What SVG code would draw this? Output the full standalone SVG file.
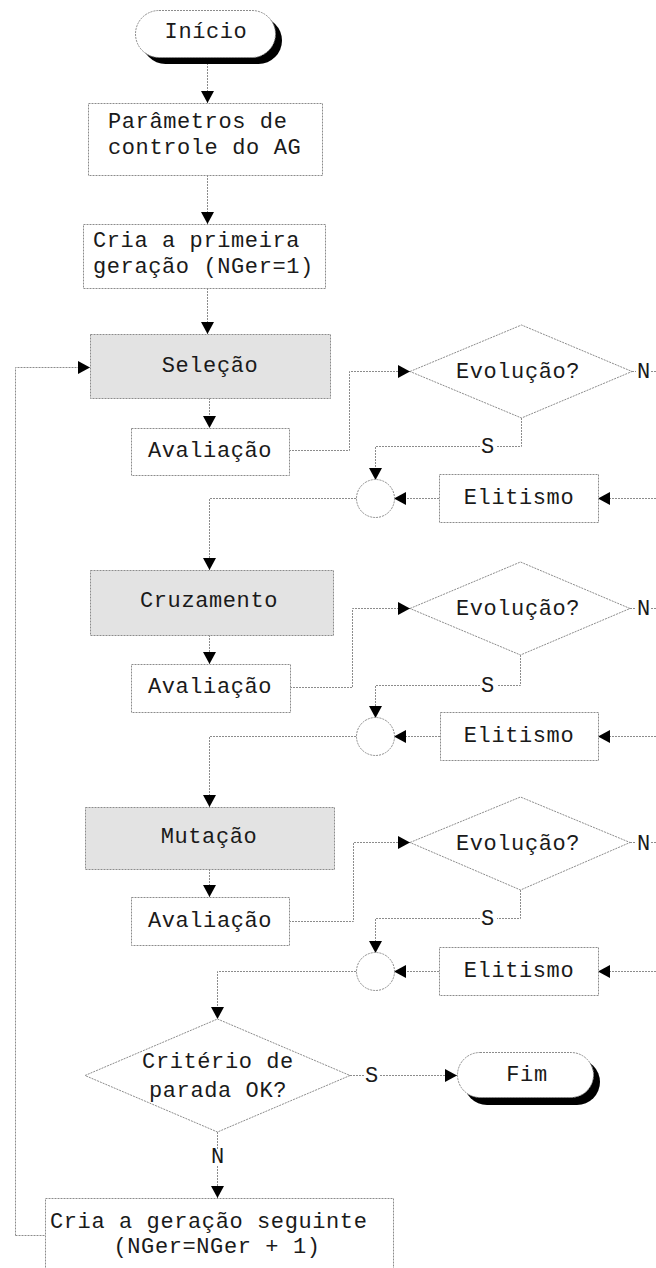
<svg xmlns="http://www.w3.org/2000/svg" width="656" height="1268" viewBox="0 0 656 1268">
<style>
.box{fill:#ffffff;stroke:#8c8c8c;stroke-width:1;stroke-dasharray:2 1}
.gray{fill:#e3e3e3;stroke:#8c8c8c;stroke-width:1;stroke-dasharray:2 1}
.shadow{fill:#000000}
.ln{fill:none;stroke:#8c8c8c;stroke-width:1;stroke-dasharray:2 1}
.arr{marker-end:url(#ah)}
text{font-family:"Liberation Mono","Courier New",monospace;font-size:22px;letter-spacing:0.6px;fill:#1a1a1a}
.c{text-anchor:middle}
</style>
<defs>
<marker id="ah" viewBox="0 0 12 13" refX="12" refY="6.5" markerWidth="12" markerHeight="13" markerUnits="userSpaceOnUse" orient="auto">
<path d="M0,0 L12,6.5 L0,13 z" fill="#000000" stroke="none"/>
</marker>
</defs>

<g id="connectors">
<path class="ln arr" d="M207.5,57 V103"/>
<path class="ln arr" d="M207.5,175 V224"/>
<path class="ln arr" d="M207.5,288 V334"/>
<path class="ln arr" d="M209.5,398 V428"/>
<path class="ln arr" d="M15.5,1235.5 V367.5 H90"/>
<path class="ln arr" d="M289,450.5 H349.5 V371.5 H410"/>
<path class="ln" d="M632,371.5 H636"/>
<path class="ln" d="M651,371.5 H656"/>
<path class="ln" d="M521.5,418 V446.5 H497"/>
<path class="ln arr" d="M480,446.5 H375.5 V480"/>
<path class="ln arr" d="M439,498.5 H394"/>
<path class="ln arr" d="M656,498.5 H598"/>
<path class="ln arr" d="M356,498.5 H209.5 V570"/>
<path class="ln arr" d="M209.5,635 V664"/>
<path class="ln arr" d="M290,687.5 H352.5 V608.5 H410"/>
<path class="ln" d="M630,608.5 H636"/>
<path class="ln" d="M651,608.5 H656"/>
<path class="ln" d="M520.5,655 V685.5 H497"/>
<path class="ln arr" d="M480,685.5 H375.5 V718"/>
<path class="ln arr" d="M440,736.5 H394"/>
<path class="ln arr" d="M656,736.5 H598"/>
<path class="ln arr" d="M356,736.5 H209.5 V807"/>
<path class="ln arr" d="M209.5,869 V897"/>
<path class="ln arr" d="M289,921.5 H353.5 V842.5 H410"/>
<path class="ln" d="M630,842.5 H636"/>
<path class="ln" d="M651,842.5 H656"/>
<path class="ln" d="M520.5,890 V918.5 H497"/>
<path class="ln arr" d="M480,918.5 H375.5 V953"/>
<path class="ln arr" d="M439,971.5 H394"/>
<path class="ln arr" d="M656,971.5 H598"/>
<path class="ln arr" d="M356,971.5 H217.5 V1019"/>
<path class="ln" d="M350,1075.5 H364"/>
<path class="ln arr" d="M380,1075.5 H457"/>
<path class="ln" d="M217.5,1132 V1149"/>
<path class="ln arr" d="M217.5,1166 V1198"/>
<path class="ln" d="M15.5,1235.5 H45"/>
<text x="644" y="378" class="c">N</text>
<text x="488" y="453" class="c">S</text>
<text x="644" y="615" class="c">N</text>
<text x="488" y="692" class="c">S</text>
<text x="644" y="850" class="c">N</text>
<text x="488" y="925" class="c">S</text>
<text x="372" y="1082" class="c">S</text>
<text x="218" y="1163" class="c">N</text>
</g>

<g id="inicio">
<rect class="shadow" x="142" y="17" width="140" height="47" rx="23.5"/>
<rect class="box" x="135.5" y="10.5" width="140" height="47" rx="23.5"/>
<text x="206" y="38" class="c">Início</text>
</g>

<g id="parametros">
<rect class="box" x="88.5" y="103.5" width="234" height="72"/>
<text x="108" y="128">Parâmetros de</text>
<text x="108" y="154">controle do AG</text>
</g>

<g id="primeira">
<rect class="box" x="83.5" y="224.5" width="242" height="64"/>
<text x="93" y="247">Cria a primeira</text>
<text x="93" y="273">geração (NGer=1)</text>
</g>

<g id="selecao">
<rect class="gray" x="90.5" y="334.5" width="240" height="64"/>
<text x="210" y="372" class="c">Seleção</text>
</g>

<g id="avaliacao1">
<rect class="box" x="131.5" y="428.5" width="158" height="47"/>
<text x="210" y="457" class="c">Avaliação</text>
</g>

<g id="evolucao1">
<polygon class="box" points="410,371.5 521.5,325 632,371.5 521.5,418"/>
<text x="518" y="378" class="c">Evolução?</text>
</g>

<g id="juncao1">
<circle class="box" cx="375.5" cy="498.5" r="19"/>
</g>

<g id="elitismo1">
<rect class="box" x="439.5" y="474.5" width="159" height="48"/>
<text x="519" y="504" class="c">Elitismo</text>
</g>

<g id="cruzamento">
<rect class="gray" x="90.5" y="570.5" width="243" height="65"/>
<text x="209" y="607" class="c">Cruzamento</text>
</g>

<g id="avaliacao2">
<rect class="box" x="131.5" y="664.5" width="159" height="48"/>
<text x="210" y="693" class="c">Avaliação</text>
</g>

<g id="evolucao2">
<polygon class="box" points="410,608.5 520.5,562 630,608.5 520.5,655"/>
<text x="518" y="615" class="c">Evolução?</text>
</g>

<g id="juncao2">
<circle class="box" cx="375.5" cy="736.5" r="19"/>
</g>

<g id="elitismo2">
<rect class="box" x="440.5" y="712.5" width="158" height="48"/>
<text x="519" y="742" class="c">Elitismo</text>
</g>

<g id="mutacao">
<rect class="gray" x="85.5" y="807.5" width="249" height="62"/>
<text x="209" y="843" class="c">Mutação</text>
</g>

<g id="avaliacao3">
<rect class="box" x="131.5" y="897.5" width="158" height="48"/>
<text x="210" y="927" class="c">Avaliação</text>
</g>

<g id="evolucao3">
<polygon class="box" points="410,842.5 520.5,797 630,842.5 520.5,890"/>
<text x="518" y="850" class="c">Evolução?</text>
</g>

<g id="juncao3">
<circle class="box" cx="375.5" cy="971.5" r="19"/>
</g>

<g id="elitismo3">
<rect class="box" x="439.5" y="947.5" width="159" height="48"/>
<text x="519" y="977" class="c">Elitismo</text>
</g>

<g id="criterio">
<polygon class="box" points="85,1075.5 217.5,1019 350,1075.5 217.5,1132"/>
<text x="218" y="1068" class="c">Critério de</text>
<text x="218" y="1097" class="c">parada OK?</text>
</g>

<g id="fim">
<rect class="shadow" x="464" y="1059" width="136" height="46" rx="23"/>
<rect class="box" x="457.5" y="1052.5" width="136" height="45" rx="22.5"/>
<text x="527" y="1081" class="c">Fim</text>
</g>

<g id="seguinte">
<rect class="box" x="45.5" y="1198.5" width="348" height="90"/>
<text x="50" y="1228">Cria a geração seguinte</text>
<text x="217" y="1253" class="c">(NGer=NGer + 1)</text>
</g>
</svg>
